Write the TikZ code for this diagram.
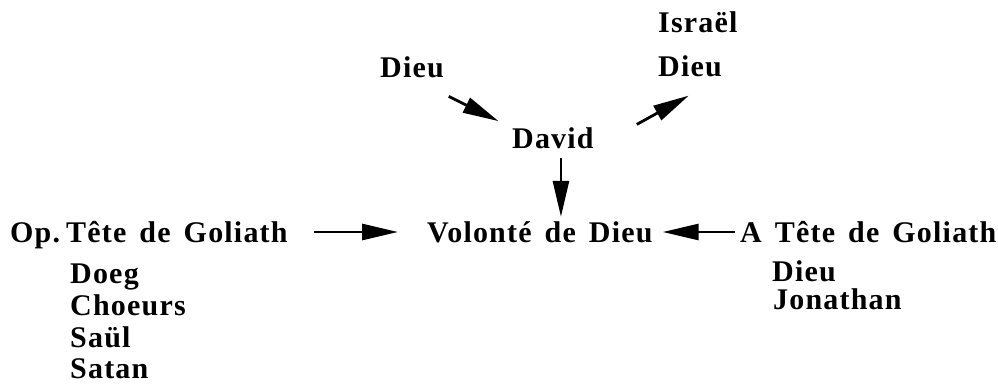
\documentclass[tikz,border=0pt]{standalone}
\usepackage{fontspec}
\setmainfont{Liberation Serif}
\newfontfamily\diagfont{Liberation Serif}[LetterSpace=4.0,WordSpace=1.5]
\usetikzlibrary{arrows.meta,positioning}

\begin{document}
\begin{tikzpicture}[
  x=1pt, y=1pt,
  lbl/.style={
    font=\diagfont\bfseries\fontsize{30}{33}\selectfont,
    text height=20pt,
    text depth=0pt,
    inner sep=0pt,
    anchor=base west,
  },
  arr/.style={
    -{Triangle[length=36pt,width=16pt]},
    line width=2.8pt,
    black,
  },
]
\useasboundingbox (0,0) rectangle (998,-385);

% Nodes
\node[lbl] (vol) at (427,-242) {Volonté de Dieu};

\node[lbl] (david) at (512,-148) {David};

\node[lbl] (dieuG) at (380,-78) {Dieu};

\node[lbl] (israel) at (658,-33) {Israël};
\node[lbl, below=44pt of israel.base west, anchor=base west] (dieuD) {Dieu};

\node[lbl] (op) at (10,-242) {Op.};
\node[lbl] (tete) at (66,-242) {Tête de Goliath};
\node[lbl, below=41pt of tete.base west, anchor=base west, xshift=4pt] (doeg) {Doeg};
\node[lbl, below=32pt of doeg.base west, anchor=base west] (choeurs) {Choeurs};
\node[lbl, below=32pt of choeurs.base west, anchor=base west] (saul) {Saül};
\node[lbl, below=31pt of saul.base west, anchor=base west] (satan) {Satan};

\node[lbl] (aTete) at (740,-242) {A Tête de Goliath};
\node[lbl, below=39pt of aTete.base west, anchor=base west, xshift=32pt] (dieuA) {Dieu};
\node[lbl, below=28pt of dieuA.base west, anchor=base west, xshift=1pt] (jonathan) {Jonathan};

% Arrows
\draw[arr, shorten <=41pt, shorten >=15pt] (dieuG.south) -- (david.north west);
\draw[arr, shorten <=49pt, shorten >=38pt] (david.south east) -- (dieuD.south east);
\draw[arr, shorten <=10pt, shorten >=5pt] ([xshift=8pt]david.south) -- ([xshift=8pt]david.south |- vol.north);
\draw[arr, shorten <=26pt, shorten >=29pt] (tete.east) -- (vol.west);
\draw[arr, shorten <=5pt, shorten >=10pt] (aTete.west) -- (vol.east);

\end{tikzpicture}
\end{document}
